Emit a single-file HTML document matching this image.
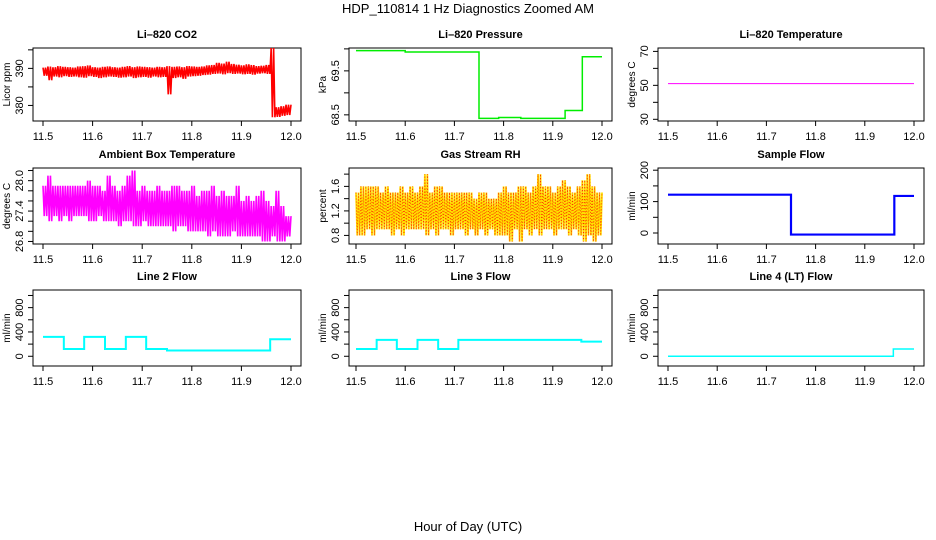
<!DOCTYPE html>
<html><head><meta charset="utf-8"><style>
body{margin:0;background:#fff}
svg{display:block;font-family:"Liberation Sans",sans-serif}
</style></head><body>
<svg id="c" width="936" height="540" viewBox="0 0 936 540">
<text x="468" y="13" text-anchor="middle" font-size="13">HDP_110814  1 Hz Diagnostics Zoomed AM</text>
<text x="468" y="531" text-anchor="middle" font-size="13">Hour of Day (UTC)</text>
</svg>
<script>
// ---- data ----
const xTicks=[11.5,11.6,11.7,11.8,11.9,12.0];
const xTickLabels=["11.5","11.6","11.7","11.8","11.9","12.0"];
const co2Hi=[390.2,390.5,390.3,390.6,390.4,390.3,390.2,390.5,390.6,390.8,390.3,390.2,390.4,390.5,390.3,390.2,390.4,390.6,390.3,390.5,390.4,390.3,390.2,390.4,390.3,390.6,390.4,390.5,390.3,390.6,390.5,390.4,390.5,390.8,390.9,391.5,391.3,391.8,391.2,391.0,390.8,391.1,390.9,390.6,390.7,390.9,395.5,379.5,379.8,380.2];
const co2Lo=[388.0,386.8,387.8,387.6,387.9,387.7,387.8,387.6,387.5,387.9,387.7,387.4,387.6,387.8,387.7,387.5,387.6,387.8,387.4,387.6,387.7,387.5,387.8,387.6,387.7,383.0,387.4,387.6,387.2,387.8,387.9,388.0,388.2,388.3,388.5,388.6,388.4,388.7,388.5,388.6,388.4,388.5,388.3,388.6,388.7,388.5,376.8,376.9,377.2,377.4];
const ambHi=[27.9,28.1,27.9,27.9,27.9,27.9,27.9,27.9,27.9,28.0,27.9,27.9,27.8,28.1,27.9,27.8,27.9,28.1,28.2,27.8,27.9,27.8,27.8,27.9,27.8,27.8,27.9,27.9,27.8,27.8,27.9,27.7,27.8,27.8,27.9,27.7,27.8,27.7,27.7,27.9,27.6,27.7,27.6,27.7,27.8,27.6,27.5,27.8,27.5,27.3];
const ambLo=[27.3,27.2,27.3,27.2,27.3,27.2,27.3,27.3,27.3,27.2,27.2,27.3,27.2,27.2,27.2,27.1,27.2,27.2,27.1,27.1,27.2,27.1,27.1,27.1,27.1,27.1,27.0,27.1,27.1,27.0,27.0,27.0,27.0,26.9,27.0,26.9,26.9,26.9,27.0,26.9,26.9,26.9,26.9,26.9,26.8,26.8,26.9,26.8,26.8,26.9];
const rhHi=[1.5,1.6,1.6,1.6,1.6,1.5,1.6,1.5,1.5,1.6,1.5,1.6,1.5,1.6,1.8,1.5,1.6,1.6,1.5,1.5,1.5,1.5,1.5,1.5,1.4,1.5,1.5,1.4,1.4,1.5,1.6,1.5,1.5,1.6,1.6,1.5,1.6,1.8,1.6,1.6,1.5,1.6,1.7,1.6,1.5,1.6,1.7,1.8,1.6,1.5];
const rhLo=[0.8,0.8,0.9,0.8,0.9,0.9,0.9,0.8,0.9,0.8,0.9,0.9,0.9,0.9,0.8,0.9,0.8,0.9,0.9,0.8,0.9,0.9,0.8,0.9,0.8,0.9,0.8,0.9,0.8,0.8,0.8,0.7,0.9,0.7,0.9,0.8,0.9,0.8,0.9,0.9,0.8,0.9,0.9,0.8,0.9,0.8,0.7,0.8,0.7,0.8];
const presT=[11.5,11.6,11.75,11.79,11.835,11.925,11.96,12.0];
const presV=[69.96,69.93,68.42,68.44,68.42,68.60,69.82];
const tempT=[11.5,12.0];
const tempV=[51];
const sampT=[11.5,11.75,11.96,12.0];
const sampV=[122,-5,118];
const l2T=[11.5,11.542,11.583,11.625,11.667,11.708,11.75,11.958,12.0];
const l2V=[320,120,320,120,320,120,95,280];
const l3T=[11.5,11.542,11.583,11.625,11.667,11.708,11.958,12.0];
const l3V=[120,270,120,270,120,270,240];
const l4T=[11.5,11.958,12.0];
const l4V=[0,120];

// ---- layout ----
const NS="http://www.w3.org/2000/svg";
const svg=document.getElementById('c');
const cols=[{b0:33,b1:301,x0:43,x1:291},{b0:349,b1:612,x0:356,x1:602},{b0:658,b1:924,x0:668,x1:914}];
const rows=[{t:48,b:121},{t:168,b:244},{t:290,b:366}];
function mk(tag,attrs,parent){const e=document.createElementNS(NS,tag);for(const k in attrs)e.setAttribute(k,attrs[k]);(parent||svg).appendChild(e);return e;}

function panel(ci,ri,name,title,ylab,ymin,ymax,yTicks,yLabels){
  const c=cols[ci],r=rows[ri];
  const g=mk('g',{});
  
  
  const sx=v=>c.x0+(v-11.5)/0.5*(c.x1-c.x0);
  const sy=v=>r.b-(v-ymin)/(ymax-ymin)*(r.b-r.t);
  const box=mk('rect',{x:c.b0,y:r.t,width:c.b1-c.b0,height:r.b-r.t,fill:'none',stroke:'#000','stroke-width':1},g);
  
  
  const tt=mk('text',{x:(c.b0+c.b1)/2,y:r.t-10,'text-anchor':'middle','font-size':11,'font-weight':'bold'},g);
  tt.textContent=title;
  
  
  // x axis
  const xa=mk('g',{},g);
  
  
  xTicks.forEach((v,i)=>{
    mk('line',{x1:sx(v),x2:sx(v),y1:r.b,y2:r.b+5,stroke:'#000'},xa);
    const t=mk('text',{x:sx(v),y:r.b+19,'text-anchor':'middle','font-size':11},xa);
    t.textContent=xTickLabels[i];
  });
  // y axis
  const ya=mk('g',{},g);
  
  
  const ax=c.b0;
  yTicks.forEach((v,i)=>{
    mk('line',{x1:ax-5,x2:ax,y1:sy(v),y2:sy(v),stroke:'#000'},ya);
    if(yLabels[i]){const t=mk('text',{x:0,y:0,'text-anchor':'middle','font-size':11,transform:`translate(${ax-10},${sy(v)}) rotate(-90)`},ya);t.textContent=yLabels[i];}
  });
  const yl=mk('text',{x:0,y:0,'text-anchor':'middle','font-size':10,transform:`translate(${ax-23},${(r.t+r.b)/2}) rotate(-90)`},g);
  yl.textContent=ylab;
  
  
  return {g,sx,sy};
}
function band(p,name,hi,lo,color,w){
  const n=hi.length,step=0.5/n;let pts=[];
  for(let i=0;i<n;i++){
    const x=11.5+i*step;
    pts.push([p.sx(x),p.sy(hi[i])],[p.sx(x+step*0.25),p.sy(lo[i])],[p.sx(x+step*0.5),p.sy(hi[i])],[p.sx(x+step*0.75),p.sy(lo[i])]);
  }
  pts.push([p.sx(12),p.sy(hi[n-1])]);
  const l=mk('polyline',{points:pts.map(q=>q.join(',')).join(' '),fill:'none',stroke:color,'stroke-width':w||1.6},p.g);
  
  
  return l;
}
function steps(p,name,T,V,color,w){
  let pts=[];
  for(let i=0;i<V.length;i++){pts.push([p.sx(T[i]),p.sy(V[i])],[p.sx(T[i+1]),p.sy(V[i])]);}
  const l=mk('polyline',{points:pts.map(q=>q.join(',')).join(' '),fill:'none',stroke:color,'stroke-width':w},p.g);
  
  
}

let p;
p=panel(0,0,'co2','Li\u2013820 CO2','Licor ppm',375.8,395.5,[380,385,390,395],['380','','390','']);
band(p,'co2',co2Hi,co2Lo,'#ff0000');
p=panel(1,0,'pressure','Li\u2013820 Pressure','kPa',68.36,70.02,[68.5,69.0,69.5,70.0],['68.5','','69.5','']);
steps(p,'pressure',presT,presV,'#00ee00',1.5);
p=panel(2,0,'li820-temp','Li\u2013820 Temperature','degrees C',29,72,[30,40,50,60,70],['30','','50','','70']);
steps(p,'li820-temp',tempT,tempV,'#ff00ff',1);
p=panel(0,1,'ambient-temp','Ambient Box Temperature','degrees C',26.75,28.25,[26.8,27.0,27.2,27.4,27.6,27.8,28.0,28.2],['26.8','','','27.4','','','28.0','']);
band(p,'ambient-temp',ambHi,ambLo,'#ff00ff');
p=panel(1,1,'rh','Gas Stream RH','percent',0.66,1.9,[0.8,1.0,1.2,1.4,1.6,1.8],['0.8','','1.2','','1.6','']);
band(p,'rh-base',rhHi,rhLo,'#ffe000',1.8);
band(p,'rh',rhHi,rhLo,'#ff2000',0.8).setAttribute('stroke-dasharray','1,2');
p=panel(2,1,'sample-flow','Sample Flow','ml/min',-35,207,[0,50,100,150,200],['0','','100','','200']);
steps(p,'sample-flow',sampT,sampV,'#0000ff',2.2);
p=panel(0,2,'line2-flow','Line 2 Flow','ml/min',-160,1090,[0,200,400,600,800,1000],['0','','400','','800','']);
steps(p,'line2-flow',l2T,l2V,'#00ffff',2);
p=panel(1,2,'line3-flow','Line 3 Flow','ml/min',-160,1090,[0,200,400,600,800,1000],['0','','400','','800','']);
steps(p,'line3-flow',l3T,l3V,'#00ffff',2);
p=panel(2,2,'line4-flow','Line 4 (LT) Flow','ml/min',-160,1090,[0,200,400,600,800,1000],['0','','400','','800','']);
steps(p,'line4-flow',l4T,l4V,'#00ffff',1.5);
</script>
</body></html>
